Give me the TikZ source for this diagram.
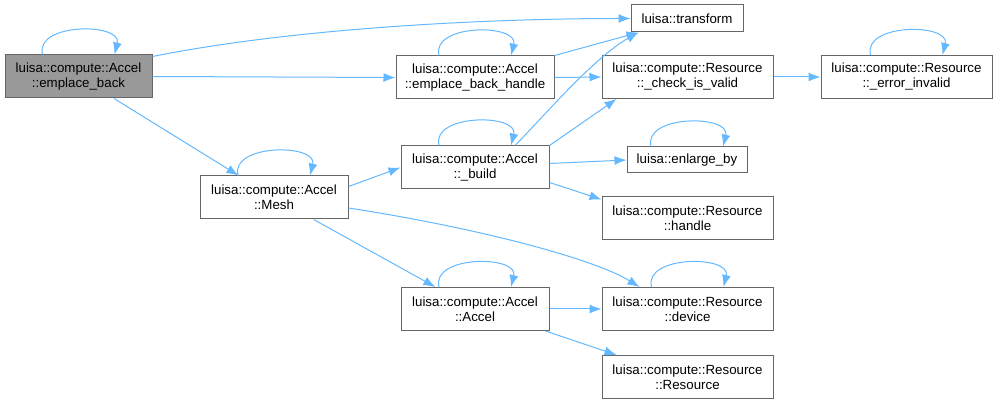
\documentclass[tikz,border=0pt]{standalone}
\usepackage{fontspec}
\setmainfont{Liberation Sans}
\usetikzlibrary{arrows.meta,positioning}
\definecolor{edgeblue}{RGB}{99,184,255}
\definecolor{boxline}{RGB}{102,102,102}
\definecolor{curfill}{RGB}{153,153,153}
\newcommand{\selfloop}[1]{%
  \draw[call] ([xshift=-36pt]#1.north) .. controls +(-8,-32) and +(8,-32)
    .. ([xshift=36pt]#1.north);}

\begin{document}
\begin{tikzpicture}[x=1pt, y=-1pt, >={Latex[length=12pt,width=9pt]},
                    font=\fontsize{13.3}{15}\selectfont]
  \tikzset{fn/.style={draw=boxline, fill=white, line width=1pt, align=center,
                      inner sep=0pt, minimum height=43pt, minimum width=#1},
           fn/.default=171pt,
           call/.style={edgeblue, line width=1pt, ->}}
  \useasboundingbox (0,0) rectangle (996,403);

  % first column: the function whose calls are shown
  \node[fn=147pt, fill=curfill] (eb) at (78.5,76.5)
       {luisa::compute::Accel\\::emplace\_back};
  \node[fn=148pt] (mesh) at (274,197.5) {luisa::compute::Accel\\::Mesh};

  % middle column
  \node[fn=158pt] (ebh)   at (475,77.5)  {luisa::compute::Accel\\::emplace\_back\_handle};
  \node[fn=148pt] (build) at (475,167.5) {luisa::compute::Accel\\::\_build};
  \node[fn=148pt] (acc)   at (475,309)   {luisa::compute::Accel\\::Accel};

  % right columns
  \node[fn=112pt, minimum height=27pt] (tr)  at (687,18.5) {luisa::transform};
  \node[fn]                            (chk) at (687.5,77)
       {luisa::compute::Resource\\::\_check\_is\_valid};
  \node[fn, right=47pt of chk]         (err)
       {luisa::compute::Resource\\::\_error\_invalid};
  \node[fn=120pt, minimum height=26pt] (enl) at (687,160) {luisa::enlarge\_by};
  \node[fn] (hdl) at (687.5,218.5) {luisa::compute::Resource\\::handle};
  \node[fn] (dev) at (687.5,309)   {luisa::compute::Resource\\::device};
  \node[fn, below=24pt of dev] (res) {luisa::compute::Resource\\::Resource};

  % calls
  \draw[call] ([yshift=-2pt]eb.north east) .. controls +(150,-30) and +(-130,0) .. (tr.west);
  \draw[call] (eb.east) -- (ebh.west);
  \draw[call] (eb) -- (mesh);
  \draw[call] (ebh.north east) -- ([xshift=8pt]tr.south west);
  \draw[call] (ebh.east) -- (chk.west);
  \draw[call] (chk) -- (err);
  \draw[call] ([yshift=11pt]mesh.east) -- (build.west);
  \draw[call] (mesh) -- (acc);
  \draw[call] ([yshift=-10.5pt]mesh.east) .. controls +(130,20) and +(-45,-28)
              .. ([xshift=38pt]dev.north west);
  \draw[call] ([xshift=40pt]build.north) .. controls +(25,-25) and +(-45,25)
              .. ([xshift=8pt]tr.south west);
  \draw[call] (build.north east) -- ([xshift=15pt]chk.south west);
  \draw[call] ([yshift=4pt]build.east) -- (enl.west);
  \draw[call] ([yshift=-15pt]build.east) -- ([yshift=-3pt]hdl.north west);
  \draw[call] (acc) -- (dev);
  \draw[call] ([xshift=-4pt]acc.south east) -- ([xshift=15pt]res.north west);

  % recursive calls
  \foreach \n in {eb,ebh,err,mesh,build,enl,acc,dev} {\selfloop{\n}}
\end{tikzpicture}
\end{document}
